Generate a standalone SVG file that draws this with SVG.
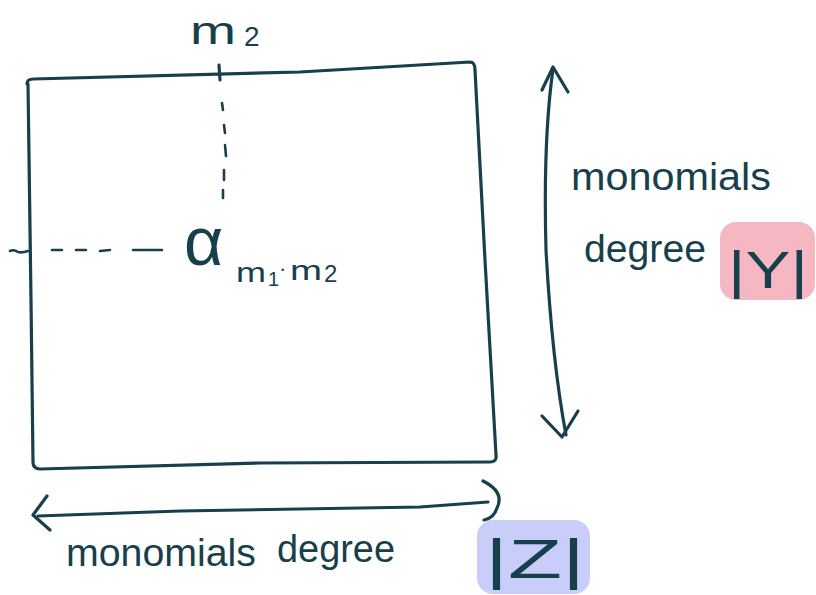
<svg xmlns="http://www.w3.org/2000/svg" width="816" height="595" viewBox="0 0 816 595">
<style>
.s{fill:none;stroke:#183f4c;stroke-width:3.2;stroke-linecap:round;stroke-linejoin:round}
.d{fill:none;stroke:#183f4c;stroke-width:2.6;stroke-linecap:round}
.t{font-family:"Liberation Sans","DejaVu Sans",sans-serif;fill:#183f4c}
</style>
<rect width="816" height="595" fill="#ffffff"/>
<g id="highlights">
<rect x="720" y="222" width="95" height="78" rx="16" fill="#f5b8c3"/>
<rect x="477" y="520" width="113" height="74" rx="16" fill="#c8cdf9"/>
</g>
<g id="matrix">
<path class="s" d="M27,84 Q27,79 33,79 L300,72 L470,62 Q475,62 475,70 L485,260 L496,455 Q497,462 490,462 L260,463 L40,469 Q33,469 33,462 L31,300 L28,84"/>
<path class="s" d="M219,65 L220,80"/>
</g>
<g id="connectors">
<path class="d" d="M222,103 L223,110 M224,125 L225,133 M225,145 L226,156 M224,170 L224,180 M223,190 L223,198" />
<path class="d" d="M52,250 L62,250 M76,250 L86,250 M100,251 L110,250 M133,250 L162,250"/>
<path class="d" d="M10,251 Q14,249 18,252 Q22,253 28,251"/>
<path class="s" d="M553,69 Q543,140 546,250 Q552,360 566,435"/>
<path class="s" d="M542,90 L553,67 L568,92"/>
<path class="s" d="M542,416 L562,437 L578,411"/>
<path class="s" d="M38,516 L180,511 L420,507 L488,502"/>
<path class="s" d="M47,496 L33,515 L50,530"/>
<path class="s" d="M483,481 Q505,492 497,508 Q494,518 484,520"/>
</g>
<g id="labels">
<text class="t" x="190" y="44" font-size="38" textLength="46" lengthAdjust="spacingAndGlyphs">m</text>
<text class="t" x="244" y="46" font-size="28">2</text>
<text class="t" x="184" y="265" font-size="68">α</text>
<text class="t" x="236" y="282" font-size="28" textLength="30" lengthAdjust="spacingAndGlyphs">m</text>
<text class="t" x="268" y="286" font-size="20">1</text>
<text class="t" x="279" y="276" font-size="22">·</text>
<text class="t" x="290" y="280" font-size="28" textLength="32" lengthAdjust="spacingAndGlyphs">m</text>
<text class="t" x="324" y="282" font-size="24">2</text>
<text class="t" x="571" y="190" font-size="38" textLength="200" lengthAdjust="spacingAndGlyphs">monomials</text>
<text class="t" x="584" y="262" font-size="38" textLength="122" lengthAdjust="spacingAndGlyphs">degree</text>
<text class="t" x="728" y="288" font-size="52" textLength="80" lengthAdjust="spacingAndGlyphs">|Y|</text>
<text class="t" x="66" y="566" font-size="38" textLength="190" lengthAdjust="spacingAndGlyphs">monomials</text>
<text class="t" x="277" y="562" font-size="38" textLength="118" lengthAdjust="spacingAndGlyphs">degree</text>
<text class="t" x="485" y="578" font-size="56" textLength="100" lengthAdjust="spacingAndGlyphs">|Z|</text>
</g>
</svg>
